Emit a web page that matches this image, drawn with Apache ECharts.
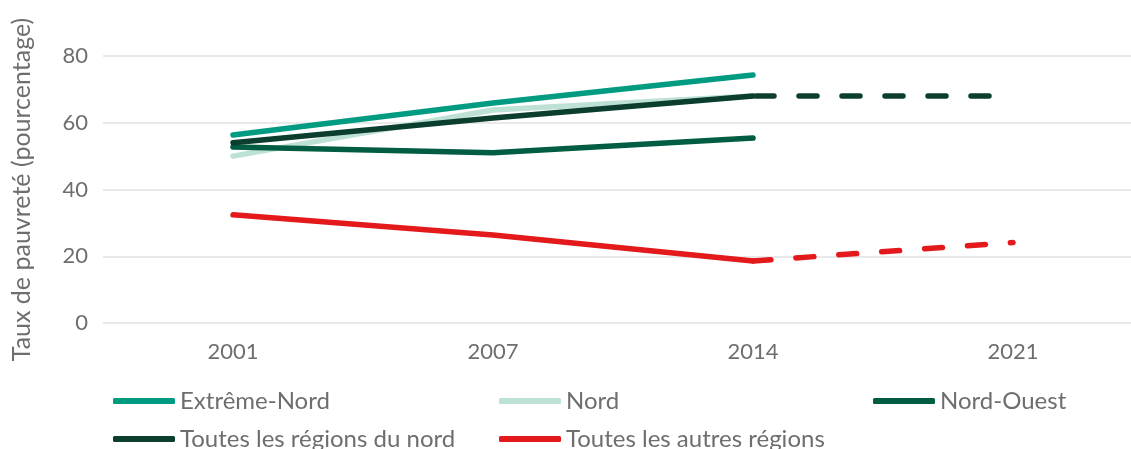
<!DOCTYPE html>
<html><head><meta charset="utf-8">
<script src="https://cdn.jsdelivr.net/npm/echarts@6/dist/echarts.min.js"></script>
<style>html,body{margin:0;padding:0;background:#fff}#c{width:1131px;height:449px}</style>
</head><body><div id="c"></div>
<script>
const categories = ['2001', '2007', '2014', '2021'];
const extremeNord = [56.3, 65.9, 74.3, null];
const nord = [50.0, 63.8, 68.0, null];
const nordOuest = [52.7, 51.0, 55.4, null];
const toutesNord = [54.0, 61.4, 68.0, null];
const toutesNordProj = [null, null, 68.0, 68.0];
const toutesAutres = [32.4, 26.4, 18.6, null];
const toutesAutresProj = [null, null, 18.6, 24.1];
const yTicks = [0, 20, 40, 60, 80];

const font = 'Lato';
const txt = '#6e6e6e';
function line(name, data, color, dashed, z, offset) {
  return {
    name, type: 'line', data, symbol: 'none', z: z || 2,
    lineStyle: { color, width: 5.5, cap: 'round', join: 'round', type: dashed ? [18, 25] : 'solid', dashOffset: offset || 0 },
    itemStyle: { color }, connectNulls: false, silent: true
  };
}
function legend(name, left, top) {
  return {
    data: [name], left, top, icon: 'roundRect', itemWidth: 62, itemHeight: 6, itemGap: 10,
    textStyle: { fontFamily: font, fontSize: 24, color: txt }, selectedMode: false
  };
}
const chart = echarts.init(document.getElementById('c'));
chart.setOption({
  animation: false,
  grid: { left: 103, width: 1040, top: 56, bottom: 126, outerBoundsMode: 'none', containLabel: false },
  xAxis: {
    type: 'category', data: categories, boundaryGap: true,
    axisLine: { show: false }, axisTick: { show: false },
    axisLabel: { fontFamily: font, fontSize: 22, color: txt, margin: 18 }
  },
  yAxis: {
    type: 'value', min: yTicks[0], max: yTicks[yTicks.length - 1], interval: 20,
    name: 'Taux de pauvreté (pourcentage)', nameLocation: 'middle', nameGap: 69,
    nameTextStyle: { fontFamily: font, fontSize: 25, color: txt },
    axisLabel: { fontFamily: font, fontSize: 22, color: txt, margin: 15 },
    splitLine: { lineStyle: { color: '#e2e2e2', width: 1.5 } }
  },
  legend: [
    legend('Extrême-Nord', 108, 384),
    legend('Nord', 494, 384),
    legend('Nord-Ouest', 868, 384),
    legend('Toutes les régions du nord', 108, 422),
    legend('Toutes les autres régions', 494, 422)
  ],
  series: [
    line('Nord', nord, '#BEE1D5', false, 2),
    line('Extrême-Nord', extremeNord, '#009B80', false, 3),
    line('Nord-Ouest', nordOuest, '#005C42', false, 3),
    line('Toutes les régions du nord', toutesNord, '#0C3E30', false, 4),
    line('Toutes les régions du nord (proj)', toutesNordProj, '#0C3E30', true, 4, -3),
    line('Toutes les autres régions', toutesAutres, '#E3191B', false, 4),
    line('Toutes les autres régions (proj)', toutesAutresProj, '#E3191B', true, 4)
  ]
});
</script></body></html>
